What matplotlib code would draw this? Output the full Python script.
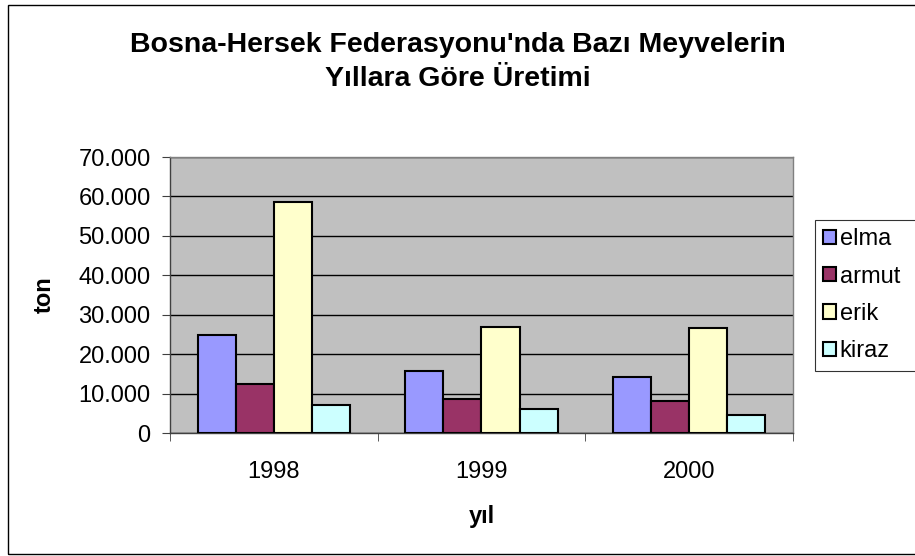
import matplotlib
matplotlib.use("Agg")
import matplotlib.pyplot as plt
import numpy as np
from matplotlib.patches import Rectangle
from matplotlib.ticker import FuncFormatter, FixedLocator

plt.rcParams["font.family"] = ["Liberation Sans", "DejaVu Sans"]

# data (tons)
years = ["1998", "1999", "2000"]
fruits = ["elma", "armut", "erik", "kiraz"]
elma = [24900, 15800, 14300]
armut = [12400, 8700, 8000]
erik = [58700, 26800, 26600]
kiraz = [7200, 6000, 4600]
series = [elma, armut, erik, kiraz]
colors = ["#9999FF", "#993366", "#FFFFCC", "#CCFFFF"]

W, H = 915, 556
fig = plt.figure(figsize=(W / 100, H / 100), dpi=100)

# outer chart border (right side runs off the image in the reference)
fig.patches.append(Rectangle((8 / W, 1 - 554 / H), 920 / W, 549 / H,
                             transform=fig.transFigure, fill=False,
                             edgecolor="black", linewidth=1.0))

ax = fig.add_axes([170 / W, 1 - 433 / H, 623 / W, 276 / H])
ax.set_facecolor("#C0C0C0")

x = np.arange(len(years))
w = 0.183
for i, (vals, c, name) in enumerate(zip(series, colors, fruits)):
    ax.bar(x + (i - 1.5) * w, vals, width=w, color=c, edgecolor="black",
           linewidth=1.5, label=name, zorder=3)

ax.set_xlim(-0.5, 2.5)
ax.set_ylim(0, 70000)
ax.set_yticks(np.arange(0, 70001, 10000))
ax.yaxis.set_major_formatter(FuncFormatter(lambda v, p: f"{v:,.0f}".replace(",", ".")))
ax.grid(axis="y", color="black", linewidth=1.0, zorder=1)
ax.set_axisbelow(True)

ax.set_xticks(x)
ax.set_xticklabels(years)
ax.xaxis.set_minor_locator(FixedLocator([-0.5, 0.5, 1.5, 2.5]))
ax.tick_params(axis="x", which="major", length=0, pad=20, labelsize=17)
ax.tick_params(axis="x", which="minor", length=6, color="#404040")
ax.tick_params(axis="y", length=6, pad=8, labelsize=17, color="#404040")

for s in ["top", "right"]:
    ax.spines[s].set_color("#808080")
for s in ["left", "bottom"]:
    ax.spines[s].set_color("#404040")
for s in ax.spines.values():
    s.set_linewidth(1.0)

ax.set_ylabel("ton", fontsize=17, fontweight="bold")
ax.yaxis.set_label_coords(-0.183, 0.5)
ax.set_xlabel("yıl", fontsize=17, fontweight="bold")
ax.xaxis.set_label_coords(0.5, -0.26)

fig.text(0.5, 1 - 62 / H, "Bosna-Hersek Federasyonu'nda Bazı Meyvelerin\nYıllara Göre Üretimi",
         ha="center", va="center", fontsize=20.5, fontweight="bold", linespacing=1.4)

leg = ax.legend(loc="upper left",
                bbox_to_anchor=(815 / W, 1 - 371 / H, 115 / W, 151 / H),
                bbox_transform=fig.transFigure, mode="expand", fontsize=17,
                frameon=True, fancybox=False, handlelength=0.55,
                handleheight=0.55, handletextpad=0.15, labelspacing=0.65,
                borderpad=0.35, borderaxespad=0)
leg.get_frame().set_edgecolor("black")
leg.get_frame().set_linewidth(0.8)

fig.savefig("out.png", dpi=100)
